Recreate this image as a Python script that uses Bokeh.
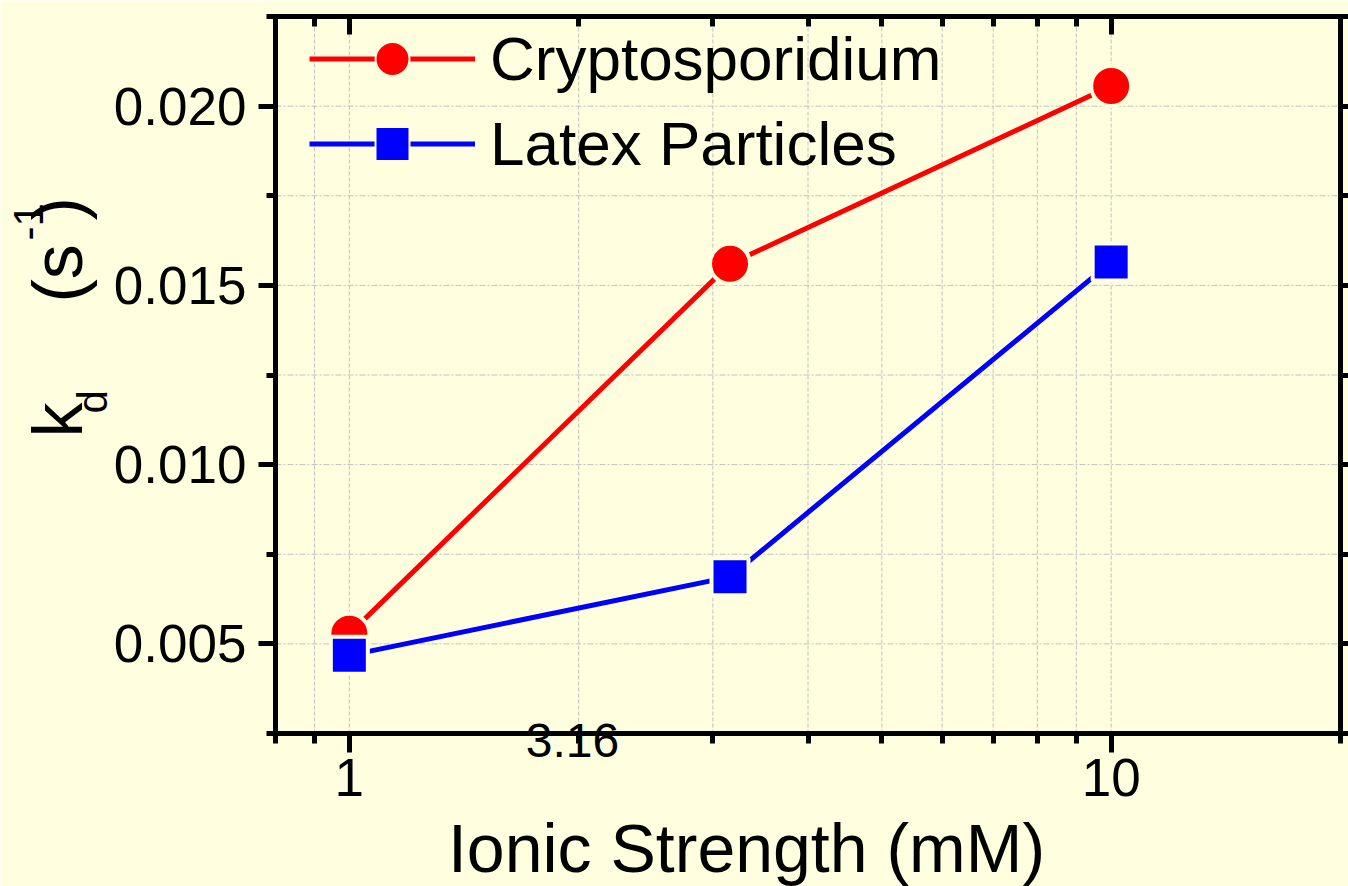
import math
from bokeh.plotting import figure
from bokeh.models import (FixedTicker, LogAxis, LinearAxis, BasicTickFormatter,
                          NumeralTickFormatter, Legend, LegendItem, Label, Range1d)
from bokeh.embed import file_html
from bokeh.resources import INLINE

# ---- data ----
ionic = [1.0, 3.16, 10.0]
crypto = [0.00528, 0.0156, 0.02056]
latex = [0.00468, 0.00687, 0.01565]
series_names = ["Cryptosporidium", "Latex Particles"]
x_major = [1, 10]
x_minor = [0.8, 0.9, 2, 3, 4, 5, 6, 7, 8, 9, 20]
y_major = [0.005, 0.010, 0.015, 0.020]
y_minor = [0.0025, 0.0075, 0.0125, 0.0175, 0.0225]
x_lim = (0.8, 20.0)
y_lim = (0.0025, 0.0225)
stray_label = "3.16"
x_title = "Ionic Strength (mM)"

# ---- layout (pixels) ----
W, H = 1348, 886
L, R, T, B = 275, 1340, 16, 733      # plot box edges on the canvas
FONT = "Liberation Sans"
BG = "#FFFFE0"
GRID = "#c0c0c0"
RED, BLUE = "#FF0000", "#0000FF"

# the frame covers the whole canvas; box edges are mapped to the axis limits
lx0, lx1 = math.log10(x_lim[0]), math.log10(x_lim[1])
ppx = (R - L) / (lx1 - lx0)
ppy = (B - T) / (y_lim[1] - y_lim[0])
xr = Range1d(10 ** (lx0 - L / ppx), 10 ** (lx1 + (W - R) / ppx))
yr = Range1d(y_lim[0] - (H - B) / ppy, y_lim[1] + T / ppy)

p = figure(width=W, height=H, x_axis_type="log", x_range=xr, y_range=yr,
           x_axis_location=None, y_axis_location=None,
           output_backend="svg", toolbar_location=None,
           min_border=0)
p.background_fill_color = BG
p.border_fill_color = BG
p.outline_line_color = None
p.grid.visible = False

# ---- grid lines inside the box ----
gx = x_major + x_minor
gy = y_major + y_minor
p.segment(x0=gx, y0=[y_lim[0]] * len(gx), x1=gx, y1=[y_lim[1]] * len(gx),
          line_color=GRID, line_width=1, line_dash="4 2")
p.segment(x0=[x_lim[0]] * len(gy), y0=gy, x1=[x_lim[1]] * len(gy), y1=gy,
          line_color=GRID, line_width=1, line_dash="6 2 2 2")

def style_axis(ax, tick_in, tick_out, minor_in, minor_out):
    ax.axis_line_width = 5
    ax.axis_line_color = "black"
    ax.axis_line_cap = "square"
    ax.major_tick_line_width = 5
    ax.minor_tick_line_width = 5
    ax.major_tick_line_color = "black"
    ax.minor_tick_line_color = "black"
    ax.major_tick_in = tick_in
    ax.major_tick_out = tick_out
    ax.minor_tick_in = minor_in
    ax.minor_tick_out = minor_out
    ax.major_label_text_font = FONT
    ax.major_label_text_color = "black"
    ax.major_label_text_font_size = "53px"

bottom = LogAxis(ticker=FixedTicker(ticks=x_major, minor_ticks=x_minor),
                 formatter=BasicTickFormatter(), fixed_location=y_lim[0], bounds=x_lim)
style_axis(bottom, 0, 19, 0, 10)
bottom.major_label_standoff = 6
p.add_layout(bottom, "below")

top = LogAxis(ticker=FixedTicker(ticks=x_major, minor_ticks=x_minor),
              formatter=BasicTickFormatter(), fixed_location=y_lim[1], bounds=x_lim,
              major_label_overrides={v: "" for v in x_major})
style_axis(top, 18, 0, 10, 0)
p.add_layout(top, "above")

left = LinearAxis(ticker=FixedTicker(ticks=y_major, minor_ticks=y_minor),
                  formatter=NumeralTickFormatter(format="0.000"),
                  fixed_location=x_lim[0], bounds=y_lim)
style_axis(left, 0, 17, 0, 9)
left.major_label_standoff = 12
p.add_layout(left, "left")

right = LinearAxis(ticker=FixedTicker(ticks=y_major, minor_ticks=y_minor),
                   formatter=NumeralTickFormatter(format="0.000"),
                   fixed_location=x_lim[1], bounds=y_lim,
                   major_label_overrides={v: "" for v in y_major})
style_axis(right, 0, 10, 0, 10)
p.add_layout(right, "right")

# ---- series ----
l1 = p.line(ionic, crypto, line_color=RED, line_width=5)
l2 = p.line(ionic, latex, line_color=BLUE, line_width=5)
# thin-outlined copies used for the legend symbols (hidden under the real markers)
m1 = p.scatter(ionic, crypto, marker="circle", size=36, fill_color=RED,
               line_color=BG, line_width=2)
m2 = p.scatter(ionic, latex, marker="square", size=33, fill_color=BLUE,
               line_color=BG, line_width=2)
p.scatter(ionic, crypto, marker="circle", size=40, fill_color=RED,
          line_color=BG, line_width=4)
p.scatter(ionic, latex, marker="square", size=37, fill_color=BLUE,
          line_color=BG, line_width=4)

legend = Legend(items=[LegendItem(label=series_names[0], renderers=[l1, m1]),
                       LegendItem(label=series_names[1], renderers=[l2, m2])],
                location=(309, H - 186), glyph_width=166, glyph_height=85,
                spacing=0, padding=0, margin=0, label_standoff=15,
                label_text_font=FONT, label_text_font_size="62px",
                label_text_color="black",
                background_fill_alpha=0, border_line_color=None)
p.add_layout(legend)

# text placed by its baseline (Label centres the text box on its anchor,
# so shift by half of ascent-descent)
HALF = (0.905 - 0.212) / 2

def label(txt, px, base, size, align="left"):
    s = float(size.rstrip("px"))
    p.add_layout(Label(x=px, y=H - (base - HALF * s), x_units="screen", y_units="screen",
                       text=txt, text_font=FONT,
                       text_font_size=size, text_align=align,
                       text_baseline="alphabetic", text_color="black"))

def ylab(txt, bx, start, size):
    s = float(size.rstrip("px"))
    p.add_layout(Label(x=bx - HALF * s, y=H - start, x_units="screen", y_units="screen",
                       text=txt, angle=math.pi / 2, text_font=FONT,
                       text_font_size=size, text_align="left",
                       text_baseline="alphabetic", text_color="black"))

# stray "3.16" text sitting on the x axis
label(stray_label, 572, 757, "48px", align="center")
# x-axis title
label(x_title, 746, 871, "68px", align="center")
# y-axis title: k_d (s^-1), rotated (baseline x, start y)
ylab("k", 82, 437, "70px")
ylab("d", 107, 413, "42px")
ylab("(s", 82, 302, "70px")
ylab("-1", 43, 240, "42px")
ylab(")", 82, 220, "70px")

open("out.html", "w").write(file_html(p, INLINE))
